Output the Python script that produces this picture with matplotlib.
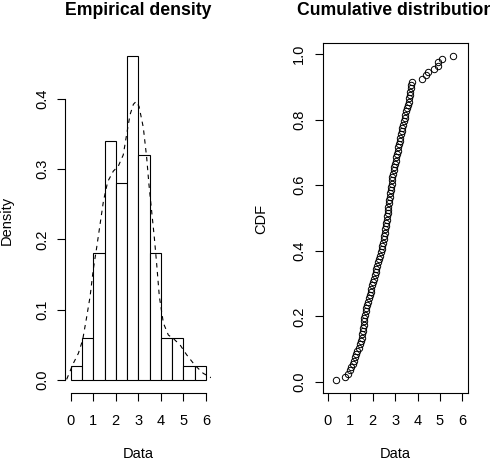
"""
Empirical density + cumulative distribution (stile plotdist di R)
"""
import numpy as np
import matplotlib
matplotlib.use("Agg")
import matplotlib.pyplot as plt

plt.rcParams['font.family'] = ['Liberation Sans', 'DejaVu Sans']

data = [0.36,
        0.78, 0.88, 0.97,
        1.05, 1.10, 1.14, 1.20, 1.25, 1.30, 1.38, 1.42, 1.47,
        1.52, 1.54, 1.57, 1.58, 1.60, 1.61, 1.63, 1.65, 1.68, 1.71, 1.74,
        1.78, 1.82, 1.86, 1.90, 1.94, 1.98,
        2.02, 2.06, 2.10, 2.13, 2.16, 2.20, 2.24, 2.28, 2.32, 2.36, 2.40,
        2.43, 2.46, 2.49,
        2.52, 2.54, 2.56, 2.58, 2.60, 2.62, 2.64, 2.66, 2.68, 2.70, 2.72,
        2.74, 2.76, 2.78, 2.80, 2.82, 2.84, 2.86, 2.88, 2.90, 2.93, 2.96, 2.99,
        3.02, 3.05, 3.08, 3.11, 3.14, 3.17, 3.20, 3.23, 3.26, 3.29, 3.32,
        3.35, 3.38, 3.42, 3.45, 3.48,
        3.52, 3.56, 3.60, 3.63, 3.66, 3.68, 3.70, 3.73, 3.76,
        4.22, 4.38, 4.45,
        4.72, 4.90, 4.93,
        5.10,
        5.60]
breaks = [0, 0.5, 1, 1.5, 2, 2.5, 3, 3.5, 4, 4.5, 5, 5.5, 6]

# stima kernel (curva tratteggiata)
dens_x = [-0.18, 0.12, 0.34, 0.53, 0.71, 0.86, 1.0, 1.15, 1.30, 1.45, 1.64,
          1.89, 2.11, 2.33, 2.48, 2.63, 2.78, 2.90, 3.03, 3.22, 3.37, 3.47,
          3.59, 3.71, 3.81, 3.93, 4.11, 4.33, 4.55, 4.85, 5.14, 5.51, 5.88, 6.25]
dens_y = [0.001, 0.024, 0.038, 0.057, 0.09, 0.119, 0.157, 0.188, 0.221, 0.254,
          0.282, 0.297, 0.304, 0.32, 0.349, 0.377, 0.392, 0.396, 0.389, 0.359,
          0.316, 0.278, 0.24, 0.202, 0.166, 0.119, 0.081, 0.064, 0.059, 0.05,
          0.036, 0.021, 0.0095, 0.003]

x_ticks = [0, 1, 2, 3, 4, 5, 6]
dens_ticks = [0.0, 0.1, 0.2, 0.3, 0.4]
cdf_ticks = [0.0, 0.2, 0.4, 0.6, 0.8, 1.0]

W, H = 490, 462
fs = 10.5
lw = 0.8

fig = plt.figure(figsize=(W / 100, H / 100), dpi=100)

def px_axes(x0, y0, x1, y1):
    return fig.add_axes([x0 / W, (H - y1) / H, (x1 - x0) / W, (y1 - y0) / H])

def stile(ax):
    ax.tick_params(direction='out', length=5.9, width=lw, labelsize=fs,
                   color='black')
    ax.tick_params(axis='x', pad=9.2)
    ax.tick_params(axis='y', pad=5.8)
    for lab in ax.get_yticklabels():
        lab.set_rotation(90)
        lab.set_va('center')

# --- densita' empirica ---
ax1 = px_axes(65.3, 43.5, 211.4, 393)
ax1.hist(data, bins=breaks, density=True, facecolor='white',
         edgecolor='black', linewidth=lw)
ax1.plot(dens_x, dens_y, color='black', linewidth=lw, linestyle=(0, (4, 4)))
ax1.set_xlim(-0.24, 6.24)
ax1.set_ylim(-0.0184, 0.4784)
ax1.set_xticks(x_ticks)
ax1.set_yticks(dens_ticks)
ax1.set_yticklabels(['%.1f' % v for v in dens_ticks])
for s in ['top', 'right']:
    ax1.spines[s].set_visible(False)
ax1.spines['left'].set_bounds(0, 0.4)
ax1.spines['bottom'].set_bounds(0, 6)
for s in ['left', 'bottom']:
    ax1.spines[s].set_linewidth(lw)
stile(ax1)

# --- funzione di ripartizione ---
ax2 = px_axes(322.6, 42.7, 467.7, 393.3)
xs = np.sort(data)
ps = (np.arange(1, len(xs) + 1) - 0.5) / len(xs)
ax2.plot(xs, ps, linestyle='none', marker='o', markersize=4.6,
         markerfacecolor='none', markeredgecolor='black', markeredgewidth=0.7)
ax2.set_xlim(-0.24, 6.24)
ax2.set_ylim(-0.0346, 1.0346)
ax2.set_xticks(x_ticks)
ax2.set_yticks(cdf_ticks)
ax2.set_yticklabels(['%.1f' % v for v in cdf_ticks])
for s in ax2.spines.values():
    s.set_linewidth(lw)
stile(ax2)

# titoli ed etichette
fig.text(138.3 / W, (H - 14.7) / H, 'Empirical density', ha='center',
         va='baseline', fontsize=12.7, fontweight='bold')
fig.text(395.2 / W, (H - 14.7) / H, 'Cumulative distribution', ha='center',
         va='baseline', fontsize=12.7, fontweight='bold')
fig.text(138.3 / W, 0.6 / H, 'Data', ha='center', va='bottom', fontsize=fs)
fig.text(395.2 / W, 0.6 / H, 'Data', ha='center', va='bottom', fontsize=fs)
fig.text(7 / W, (H - 220) / H, 'Density', ha='center', va='center',
         rotation=90, fontsize=fs)
fig.text(261 / W, (H - 219) / H, 'CDF', ha='center', va='center',
         rotation=90, fontsize=fs)

fig.savefig('out.png', dpi=100)
